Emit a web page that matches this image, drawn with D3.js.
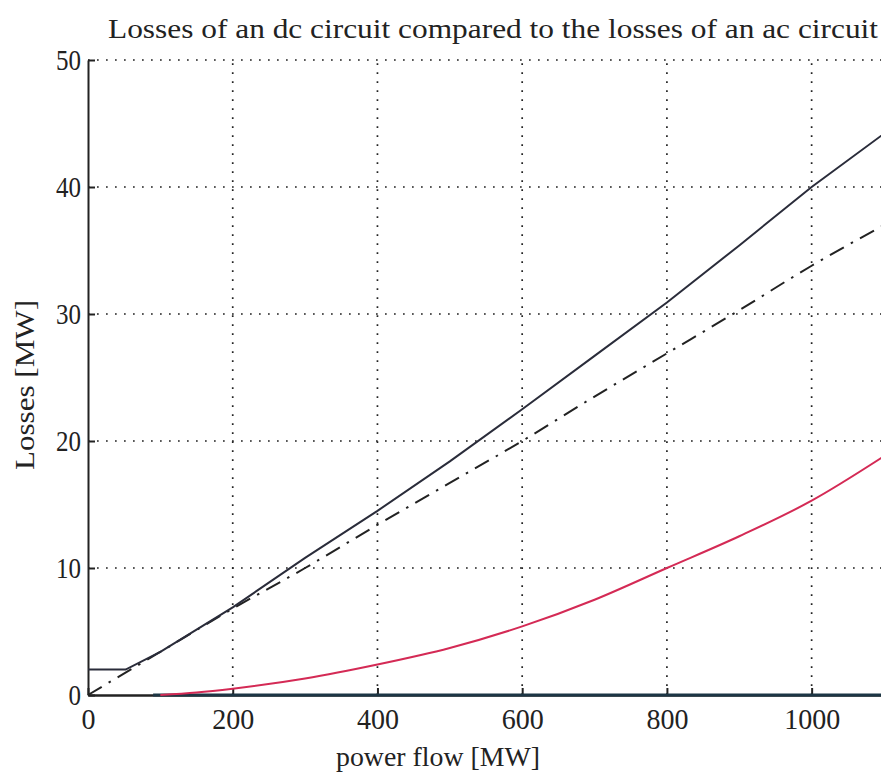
<!DOCTYPE html>
<html>
<head>
<meta charset="utf-8">
<script src="https://cdn.jsdelivr.net/npm/d3@7"></script>
<style>
  body { margin: 0; background: #fff; }
  svg { display: block; }
  text { font-family: "Liberation Serif", "DejaVu Serif", serif; fill: #222; }
</style>
</head>
<body>
<div id="chart"></div>
<script>
// data (power flow in MW, losses in MW)
const xTicks = [0, 200, 400, 600, 800, 1000];
const yTicks = [0, 10, 20, 30, 40, 50];

const dcLosses = [[0, 2], [52, 2], [100, 3.4], [200, 6.9], [300, 10.8], [400, 14.5], [500, 18.4],
  [600, 22.5], [700, 26.7], [800, 30.9], [900, 35.4], [1000, 40], [1100, 44.2]];
const dcLossesLinear = [[0, 0], [100, 3.4], [200, 6.8], [300, 10], [400, 13.4], [500, 16.7],
  [600, 20], [700, 23.5], [800, 26.9], [900, 30.3], [1000, 33.8], [1100, 37]];
const acLosses = [[100, 0], [150, 0.2], [200, 0.5], [300, 1.3], [400, 2.4], [500, 3.7], [600, 5.4],
  [700, 7.5], [800, 10], [900, 12.5], [1000, 15.3], [1100, 18.8]];
const baseLine = [[90, 0], [1100, 0]];

const W = 881, H = 776;
const svg = d3.select("#chart").append("svg").attr("width", W).attr("height", H);

const x = d3.scaleLinear().domain([0, 1100]).range([88, 884]);
const y = d3.scaleLinear().domain([0, 50]).range([695, 60]);

// dotted grid
svg.append("g").selectAll("line.vg")
  .data(xTicks.slice(1))
  .join("line")
  .attr("x1", d => x(d)).attr("x2", d => x(d))
  .attr("y1", y(0)).attr("y2", y(50))
  .attr("stroke", "#222").attr("stroke-width", 1.7)
  .attr("stroke-dasharray", "1.7,7.3");

svg.append("g").selectAll("line.hg")
  .data(yTicks.slice(1))
  .join("line")
  .attr("x1", x(0)).attr("x2", x(1100))
  .attr("y1", d => y(d)).attr("y2", d => y(d))
  .attr("stroke", "#222").attr("stroke-width", 1.7)
  .attr("stroke-dasharray", "1.7,7.3");

// axes
const xAxis = svg.append("g")
  .attr("transform", `translate(0,${y(0)})`)
  .call(d3.axisBottom(x).tickValues(xTicks).tickFormat(d3.format("d"))
    .tickSizeInner(-7).tickSizeOuter(0).tickPadding(13));
xAxis.select(".domain").attr("stroke", "#222").attr("stroke-width", 2.5);
xAxis.selectAll(".tick line").attr("stroke", "#222").attr("stroke-width", 2);
xAxis.selectAll(".tick text")
  .attr("font-size", 30).attr("fill", "#222")
  .attr("textLength", d => String(d).length * 14)
  .attr("lengthAdjust", "spacingAndGlyphs");

const yAxis = svg.append("g")
  .attr("transform", `translate(${x(0)},0)`)
  .call(d3.axisLeft(y).tickValues(yTicks).tickFormat(d3.format("d"))
    .tickSizeInner(-7).tickSizeOuter(0).tickPadding(7));
yAxis.select(".domain").attr("stroke", "#222").attr("stroke-width", 2);
yAxis.selectAll(".tick line").attr("stroke", "#222").attr("stroke-width", 2);
yAxis.selectAll(".tick text")
  .attr("font-size", 30).attr("fill", "#222")
  .attr("textLength", d => String(d).length * 12.5)
  .attr("lengthAdjust", "spacingAndGlyphs");

// curves
const line = d3.line().x(d => x(d[0])).y(d => y(d[1])).curve(d3.curveMonotoneX);

svg.append("path").datum(baseLine)
  .attr("d", line).attr("fill", "none")
  .attr("stroke", "#1d3645").attr("stroke-width", 3);

svg.append("path").datum(acLosses)
  .attr("d", line).attr("fill", "none")
  .attr("stroke", "#d42a55").attr("stroke-width", 2);

svg.append("path").datum(dcLossesLinear)
  .attr("d", line).attr("fill", "none")
  .attr("stroke", "#222").attr("stroke-width", 2)
  .attr("stroke-dasharray", "16,8,2.5,8");

svg.append("path").datum(dcLosses)
  .attr("d", d3.line().x(d => x(d[0])).y(d => y(d[1])))
  .attr("fill", "none")
  .attr("stroke", "#2a2c3a").attr("stroke-width", 2);

// labels
svg.append("text")
  .attr("x", 108).attr("y", 38)
  .attr("font-size", 28)
  .attr("textLength", 770).attr("lengthAdjust", "spacingAndGlyphs")
  .text("Losses of an dc circuit compared to the losses of an ac circuit");

svg.append("text")
  .attr("x", 336).attr("y", 766)
  .attr("font-size", 27)
  .attr("textLength", 204).attr("lengthAdjust", "spacingAndGlyphs")
  .text("power flow [MW]");

svg.append("text")
  .attr("transform", "translate(34,470) rotate(-90)")
  .attr("font-size", 28)
  .attr("textLength", 170).attr("lengthAdjust", "spacingAndGlyphs")
  .text("Losses [MW]");
</script>
</body>
</html>
